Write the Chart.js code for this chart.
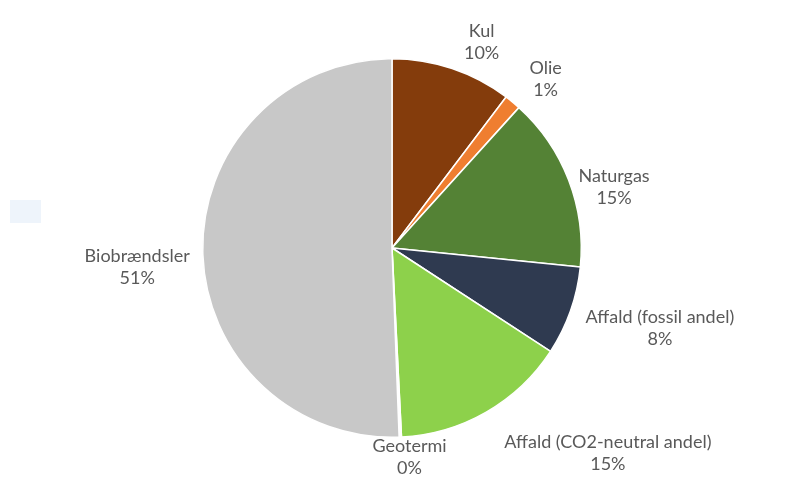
<!DOCTYPE html>
<html>
<head>
<meta charset="utf-8">
<script src="https://cdn.jsdelivr.net/npm/chart.js@4/dist/chart.umd.min.js"></script>
<style>
  html, body { margin: 0; padding: 0; background: #fff; }
  .wrap { position: relative; width: 790px; height: 483px; }
  .smudge { position: absolute; left: 10px; top: 200px; width: 31px; height: 23px; background: #eef4fb; }
</style>
</head>
<body>
<div class="wrap">
  <div class="smudge"></div>
  <canvas id="myChart" width="790" height="483"></canvas>
</div>
<script>
const categories = ['Kul', 'Olie', 'Naturgas', 'Affald (fossil andel)', 'Affald (CO2-neutral andel)', 'Geotermi', 'Biobrændsler'];
const shares = [10.3, 1.4, 14.9, 7.6, 15.0, 0.2, 50.6];
const sliceColors = ['#843c0c', '#ef7e30', '#548235', '#2f3a50', '#8dd14b', '#ffffff', '#c8c8c8'];

// small hand nudges (px) so labels sit where the original has them
const labelNudge = [[20, 6], [15, 3], [1, 19], [8, 6], [64, 12], [7, -14], [-1, 15]];

const FONT = '18px Lato, "Open Sans", sans-serif';
const LINE = 22;

const outsideLabels = {
  id: 'outsideLabels',
  afterDatasetsDraw(chart) {
    const { ctx } = chart;
    const meta = chart.getDatasetMeta(0);
    const total = shares.reduce((a, b) => a + b, 0);
    ctx.save();
    ctx.font = FONT;
    ctx.fillStyle = '#595959';
    ctx.textAlign = 'center';
    ctx.textBaseline = 'middle';
    meta.data.forEach((arc, i) => {
      const lines = [categories[i], Math.round(shares[i] / total * 100) + '%'];
      const w = Math.max(...lines.map(t => ctx.measureText(t).width));
      const h = LINE * lines.length;
      const mid = (arc.startAngle + arc.endAngle) / 2;
      const cx = Math.cos(mid), cy = Math.sin(mid);
      const r = arc.outerRadius + 12;
      const x = arc.x + cx * r + cx * w / 2 + labelNudge[i][0];
      const y = arc.y + cy * r + cy * h / 2 + labelNudge[i][1];
      lines.forEach((t, k) => {
        ctx.fillText(t, x, y - h / 2 + LINE / 2 + k * LINE);
      });
    });
    ctx.restore();
  }
};

new Chart(document.getElementById('myChart'), {
  type: 'pie',
  data: {
    labels: categories,
    datasets: [{
      data: shares,
      backgroundColor: sliceColors,
      borderColor: '#ffffff',
      borderWidth: 1.5,
      hoverOffset: 0
    }]
  },
  options: {
    responsive: false,
    animation: false,
    layout: { padding: { top: 58, bottom: 45, left: 100, right: 106 } },
    plugins: {
      legend: { display: false },
      tooltip: { enabled: false }
    }
  },
  plugins: [outsideLabels]
});
</script>
</body>
</html>
